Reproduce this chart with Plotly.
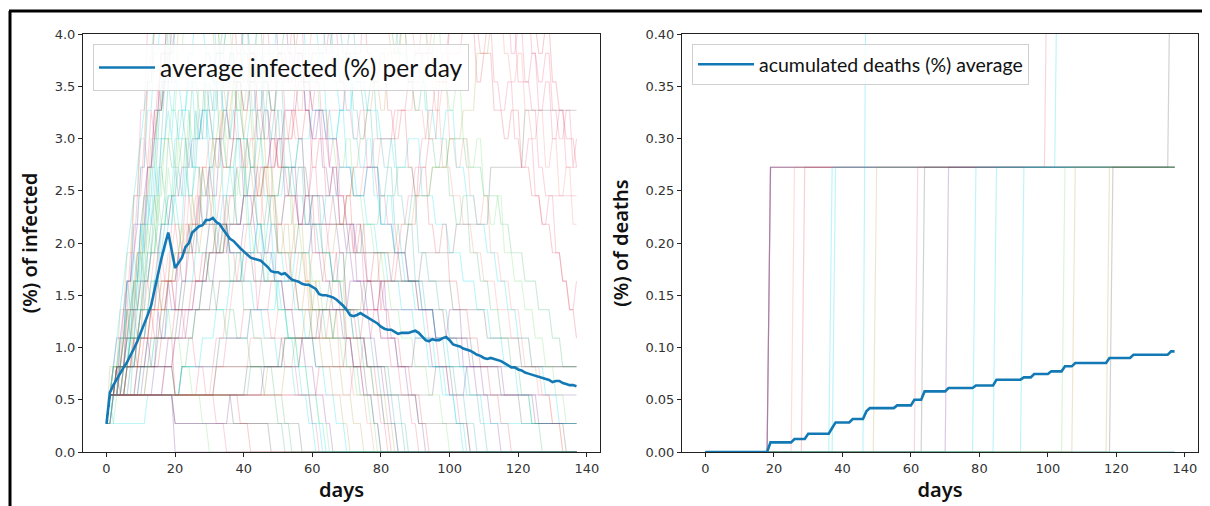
import plotly.graph_objects as go

# ---------------- data ----------------
UNIT = 100.0 / 367.0          # one person, in percent of population

days = list(range(138))

avg_infected = [
    0.27, 0.57, 0.64, 0.70, 0.76, 0.81, 0.86, 0.92, 0.99, 1.06,
    1.14, 1.22, 1.31, 1.40, 1.56, 1.71, 1.85, 1.98, 2.10, 1.93,
    1.76, 1.81, 1.86, 1.96, 2.00, 2.10, 2.13, 2.16, 2.17, 2.22,
    2.22, 2.24, 2.20, 2.18, 2.13, 2.08, 2.04, 2.02, 1.98, 1.95,
    1.92, 1.89, 1.86, 1.85, 1.84, 1.83, 1.80, 1.77, 1.73, 1.72,
    1.72, 1.70, 1.71, 1.68, 1.65, 1.64, 1.63, 1.61, 1.60, 1.60,
    1.58, 1.56, 1.51, 1.50, 1.50, 1.49, 1.48, 1.46, 1.43, 1.40,
    1.36, 1.31, 1.30, 1.31, 1.33, 1.31, 1.29, 1.27, 1.25, 1.23,
    1.20, 1.18, 1.17, 1.17, 1.15, 1.13, 1.14, 1.14, 1.14, 1.15,
    1.16, 1.14, 1.10, 1.07, 1.06, 1.08, 1.07, 1.07, 1.09, 1.10,
    1.07, 1.03, 1.02, 1.01, 0.99, 0.98, 0.97, 0.95, 0.93, 0.92,
    0.90, 0.89, 0.90, 0.89, 0.88, 0.87, 0.85, 0.83, 0.81, 0.81,
    0.79, 0.78, 0.76, 0.75, 0.74, 0.73, 0.72, 0.71, 0.70, 0.69,
    0.67, 0.68, 0.68, 0.66, 0.65, 0.64, 0.64, 0.63,
]

# accumulated deaths average: day on which a new level starts, and the level
death_step_days = [0, 19, 26, 30, 37, 38, 43, 47, 48, 56, 61, 64, 71, 79,
                   85, 93, 96, 101, 105, 108, 118, 125, 136]
death_step_vals = [0.0, 0.0092, 0.0124, 0.0175, 0.0230, 0.0283, 0.0316,
                   0.0389, 0.0420, 0.0446, 0.0500, 0.0580, 0.0612, 0.0637,
                   0.0692, 0.0714, 0.0746, 0.0772, 0.0820, 0.0852, 0.0900,
                   0.0931, 0.0963]

# individual simulation runs, infected people ("day:count" = count from that day on)
sim_infected = [
    "0:1 1:2 18:2 20:1 47:1 48:0 137:0",
    "0:1 1:2 18:2 20:0 137:0",
    "0:1 1:2 3:3 18:3 20:2 36:2 37:1 56:1 57:0 137:0",
    "0:1 2:2 9:3 10:4 18:4 20:2 38:2 39:1 41:1 42:0 137:0",
    "0:1 1:2 4:3 6:4 8:5 10:6 12:7 14:8 15:7 16:8 18:9 20:8 22:7 25:8 27:7 30:6 32:5 35:4 36:5 38:4 42:3 46:2 50:1 52:0 137:0",
    "0:1 2:2 5:3 7:5 9:6 11:8 13:10 15:12 17:13 19:12 21:11 23:12 25:10 28:9 30:10 32:8 36:7 40:6 43:5 46:4 50:3 55:2 60:1 63:0 137:0",
    "0:1 2:2 4:4 6:6 8:9 10:12 12:15 14:18 40:18 45:15 48:13 50:14 52:12 55:11 58:9 60:10 62:8 65:7 68:5 70:4 72:3 75:2 80:1 82:0 137:0",
    "0:1 1:2 20:2 22:3 30:3 32:4 40:5 45:6 50:8 55:9 60:11 65:12 70:14 75:16 100:18 110:16 115:15 120:13 124:12 126:10 128:9 137:9",
    "0:1 1:2 6:2 8:4 10:5 12:7 14:9 16:11 18:13 20:15 22:17 35:17 38:15 40:14 42:12 44:13 46:11 49:12 51:10 54:9 56:10 58:8 62:7 66:6 68:7 70:5 74:4 78:3 83:2 86:1 88:0 137:0",
    "0:1 1:3 3:3 5:4 7:6 9:7 11:9 13:11 15:12 17:14 19:13 21:15 30:15 32:13 35:12 37:13 40:11 42:10 45:11 47:9 50:8 52:9 55:7 58:6 60:5 63:4 66:3 69:2 72:1 75:0 137:0",
    "0:1 2:2 4:3 6:5 8:6 10:8 12:10 14:12 16:14 18:16 45:16 50:14 53:13 55:14 58:12 60:11 62:12 65:10 67:9 70:8 73:7 76:6 78:5 80:6 82:4 85:3 88:2 91:1 93:0 137:0",
    "0:1 3:2 6:3 9:4 11:6 13:7 15:9 17:11 19:12 21:14 23:16 50:16 55:14 57:13 60:14 62:12 65:11 67:10 70:11 72:9 75:8 78:7 81:6 83:5 86:4 90:3 94:2 98:1 100:0 137:0",
    "0:1 1:2 5:2 7:3 10:4 14:5 18:6 22:7 25:8 28:10 31:11 34:13 37:15 40:17 75:17 80:15 83:14 85:15 88:13 90:12 93:11 95:12 98:10 101:9 104:8 107:7 110:6 114:5 118:4 122:3 126:2 130:1 133:0 137:0",
    "0:1 2:2 8:2 10:3 14:4 18:5 22:6 26:7 30:8 34:9 38:11 42:12 46:14 50:16 80:16 85:14 88:13 90:14 93:12 96:11 99:12 102:10 105:9 108:8 111:7 114:6 117:5 120:4 124:3 128:2 132:1 137:1",
    "0:1 1:2 10:2 12:3 16:4 20:5 25:6 30:7 35:8 40:9 45:10 50:11 55:12 60:14 65:15 70:17 100:17 104:15 108:13 110:14 113:12 116:11 118:12 121:10 124:9 127:8 130:7 133:6 135:5 137:4",
    "0:1 1:2 8:2 9:3 12:3 13:4 20:4 21:5 30:5 31:6 38:6 40:7 45:7 46:6 50:6 52:5 58:5 60:4 70:4 72:3 80:3 82:2 95:2 96:3 100:3 137:3",
    "0:1 2:2 5:3 8:5 11:7 13:8 15:10 17:11 19:10 21:12 23:11 25:13 27:12 29:14 31:13 33:11 35:10 38:11 41:9 44:8 47:9 50:7 54:6 57:7 60:5 64:4 67:5 70:3 74:2 78:1 80:0 137:0",
    "0:1 1:2 3:2 4:3 6:4 8:5 9:4 11:6 13:5 15:7 17:6 19:8 21:7 23:9 25:8 27:10 29:9 31:8 33:9 35:7 38:6 41:7 44:5 48:4 52:3 56:2 60:1 62:0 137:0",
    "0:1 1:2 12:2 14:3 18:4 22:5 26:6 30:7 33:8 36:7 40:8 44:7 48:8 52:9 56:8 60:9 64:8 68:7 72:6 76:5 80:4 85:3 90:4 95:3 100:2 105:3 110:2 137:2",
    "0:1 1:2 20:2 22:3 26:3 28:4 32:5 36:6 40:7 44:8 48:9 52:10 56:11 60:12 64:11 68:12 72:13 76:12 80:11 84:10 88:11 92:9 96:8 100:7 104:6 108:5 112:4 116:3 120:2 124:1 137:1",
    "0:1 1:2 4:3 7:4 9:6 11:8 13:9 15:11 17:13 19:15 40:15 42:13 44:14 46:12 48:11 50:12 52:10 55:9 58:8 60:9 63:7 66:6 69:5 72:4 76:3 80:2 84:1 87:0 137:0",
    "0:1 1:2 6:3 10:4 13:5 16:6 19:7 22:8 25:7 28:8 31:9 34:10 37:11 40:10 43:9 46:10 49:8 52:7 55:8 58:6 62:5 66:6 70:4 74:3 78:2 82:1 84:0 137:0",
    "0:1 1:2 30:2 32:3 40:3 42:4 50:5 55:6 60:7 65:8 70:9 75:10 80:11 85:12 90:14 95:15 100:16 110:17 137:17",
    "0:1 1:2 25:2 27:3 35:4 42:5 48:6 54:7 60:8 66:9 72:10 78:11 84:12 88:13 92:14 96:13 100:14 104:15 108:16 116:16 118:14 120:15 122:13 124:14 126:12 128:13 130:11 132:12 134:10 137:10",
    "0:1 1:2 2:3 5:3 6:4 9:4 10:5 14:5 15:6 20:6 21:7 25:7 26:8 35:8 36:7 42:7 43:6 55:6 56:5 65:5 66:4 75:4 76:3 100:3 101:2 120:2 121:1 137:1",
    "0:1 1:2 3:3 5:4 7:5 9:7 11:9 13:10 15:12 17:14 19:16 30:16 33:14 35:15 37:13 39:12 41:13 43:11 46:10 49:9 51:10 54:8 57:7 60:6 63:5 66:4 69:3 73:2 77:1 79:0 137:0",
    "0:1 1:2 5:2 7:3 9:4 12:5 14:6 16:8 18:9 20:11 22:12 24:14 26:16 55:16 58:14 60:13 62:14 64:12 66:11 68:12 70:10 73:9 76:8 79:7 82:6 86:5 90:4 94:3 98:2 102:1 104:0 137:0",
    "0:1 1:2 3:3 6:5 9:7 12:10 14:12 16:14 18:16 35:16 38:14 40:13 42:14 44:12 46:11 48:12 50:10 53:9 56:8 58:9 61:7 64:6 67:7 70:5 73:4 76:3 79:2 81:1 83:0 137:0",
    "0:1 1:2 15:2 17:3 20:4 24:5 28:6 32:7 36:8 40:9 44:10 48:11 52:12 56:13 60:12 64:11 68:10 72:9 76:10 80:8 84:7 88:6 92:5 96:4 100:5 104:3 108:2 112:1 115:0 137:0",
    "0:1 1:2 40:2 42:3 50:3 52:4 60:5 65:6 70:7 75:8 80:9 85:10 90:9 95:10 100:11 105:10 110:9 115:8 118:7 122:6 126:5 130:4 133:3 137:3",
    "0:1 1:2 2:1 10:1 12:2 20:2 22:3 30:3 33:4 40:4 42:5 50:6 55:7 60:8 64:9 68:10 72:9 76:10 80:8 84:7 88:6 92:5 96:4 100:3 105:2 110:1 137:1",
    "0:1 1:2 2:2 4:4 6:6 8:8 10:10 12:13 14:15 16:17 60:17 62:15 64:14 66:15 68:13 70:12 72:11 74:12 76:10 79:9 82:8 85:7 88:6 91:5 94:4 97:3 100:2 103:1 106:0 137:0",
    "0:1 1:2 10:2 11:3 14:3 15:4 25:4 26:5 32:5 33:6 45:6 46:7 55:7 56:8 70:8 71:7 85:7 86:6 100:6 101:5 110:5 111:4 120:4 121:3 137:3",
    "0:1 1:2 3:3 6:4 8:6 10:8 12:9 14:11 16:13 18:15 20:17 38:17 40:15 42:14 44:15 46:13 48:12 50:13 52:11 54:10 56:11 58:9 60:8 63:7 66:6 69:5 72:4 75:3 78:2 81:1 85:0 137:0",
    "0:1 1:2 5:3 8:4 10:5 12:6 14:7 16:6 18:7 20:8 22:7 24:9 26:8 28:10 30:9 32:11 34:10 36:12 38:11 40:10 42:11 44:9 46:8 48:9 50:7 53:6 56:7 59:5 62:4 65:5 68:3 72:2 76:1 78:0 137:0",
    "0:1 1:2 45:2 47:3 55:3 57:4 65:4 67:5 75:6 80:7 85:8 90:9 95:10 100:11 104:12 108:14 112:15 116:17 137:17",
    "0:1 1:2 30:2 32:3 50:3 52:4 60:4 62:5 75:5 76:6 90:6 92:7 100:7 102:8 110:8 112:10 120:10 122:12 130:12 137:12",
    "0:1 1:2 60:2 62:3 70:4 75:5 80:6 85:7 88:8 91:10 94:11 97:13 100:15 103:17 120:17 124:15 126:14 128:15 130:13 132:12 134:11 137:10",
    "0:1 1:2 4:3 7:4 10:5 13:6 16:5 19:4 22:3 25:2 28:1 30:0 137:0",
    "0:1 1:2 6:3 9:4 12:5 14:6 16:5 18:6 20:5 23:4 26:3 29:2 32:1 35:0 137:0",
    "0:1 1:2 3:3 5:4 7:5 10:6 13:7 16:8 19:9 22:10 25:11 28:12 31:11 34:10 37:11 40:9 43:8 46:7 49:6 52:5 55:4 58:3 61:2 64:1 66:0 137:0",
    "0:1 1:2 4:4 6:6 8:8 10:10 12:12 14:14 16:16 30:16 32:14 34:13 36:14 38:12 40:11 42:10 44:11 46:9 48:8 50:7 52:6 55:5 58:4 61:3 64:2 67:1 70:0 137:0",
    "0:1 1:2 3:3 5:5 7:7 9:9 11:11 12:10 13:12 14:11 15:13 16:12 17:14 18:13 19:15 21:17 50:17 52:15 53:16 55:14 56:15 58:13 60:12 61:13 63:11 65:10 66:11 68:9 70:8 72:7 73:8 75:6 78:5 80:4 83:3 86:2 89:1 91:0 137:0",
    "0:1 1:2 2:3 4:4 6:6 7:5 8:7 9:6 10:8 11:7 12:9 13:8 14:10 15:9 16:11 18:12 19:11 20:13 22:12 24:13 26:11 28:12 30:10 32:11 34:9 36:10 38:8 40:9 42:7 44:8 46:6 48:7 50:5 53:4 56:3 59:2 62:1 64:0 137:0",
    "0:1 1:2 3:3 5:4 6:5 7:4 8:6 9:5 10:7 11:6 12:8 14:9 15:8 16:10 17:9 18:11 20:10 22:11 24:9 26:10 28:8 30:9 32:7 34:8 36:6 38:7 40:5 43:4 46:3 49:2 52:1 54:0 137:0",
    "0:1 1:2 8:2 10:3 12:4 13:3 15:5 16:4 18:6 19:5 21:7 22:6 24:8 25:7 27:9 28:8 30:10 31:9 33:11 35:12 36:11 38:13 40:12 42:13 44:11 46:12 48:10 50:11 52:9 54:10 56:8 58:9 60:7 63:6 66:5 69:4 72:3 75:2 78:1 80:0 137:0",
    "0:1 1:2 5:3 9:4 13:5 17:6 21:7 24:8 27:9 30:10 32:11 34:12 36:13 38:14 40:15 42:16 44:17 70:17 72:15 74:16 76:14 78:13 80:14 82:12 84:11 86:12 88:10 90:9 92:10 94:8 96:7 98:8 100:6 103:5 106:4 109:3 112:2 115:1 118:0 137:0",
    "0:1 1:2 4:3 8:4 12:5 16:6 20:7 23:8 26:9 28:10 30:11 32:10 34:12 36:11 38:13 40:12 42:14 44:13 46:15 48:17 85:17 88:15 90:14 92:15 94:13 96:12 98:13 100:11 102:10 104:11 106:9 108:8 110:9 112:7 115:6 118:5 121:4 124:3 127:2 130:1 133:0 137:0",
    "0:1 1:2 3:2 5:3 7:4 9:5 11:6 13:7 15:8 17:9 18:8 20:10 21:9 23:11 24:10 26:12 27:11 29:13 30:12 32:14 34:15 36:17 65:17 67:15 69:14 71:15 73:13 75:12 77:13 79:11 81:10 83:11 85:9 87:8 89:9 91:7 94:6 97:5 100:4 103:3 106:2 109:1 111:0 137:0",
    "0:1 1:2 2:3 4:5 6:7 8:9 10:11 12:13 14:15 16:17 28:17 30:15 31:16 33:14 35:13 36:14 38:12 40:11 41:12 43:10 45:9 46:10 48:8 50:7 52:8 54:6 56:5 58:6 60:4 63:3 66:2 69:1 71:0 137:0",
    "0:1 1:2 10:2 12:3 14:4 16:5 18:6 20:7 22:8 23:7 25:9 26:8 28:10 29:9 31:11 32:10 34:12 35:11 37:13 38:12 40:14 42:13 44:15 46:17 90:17 92:15 94:14 96:15 98:13 100:12 102:13 104:11 106:10 108:11 110:9 112:8 114:9 116:7 119:6 122:5 125:4 128:3 131:2 134:1 137:1",
    "0:1 1:2 15:2 17:3 20:4 23:5 26:6 29:7 32:8 35:9 38:10 41:11 44:12 46:13 48:12 50:14 52:13 54:15 56:17 105:17 107:15 109:14 111:15 113:13 115:12 117:13 119:11 121:10 123:11 125:9 127:8 129:9 131:7 133:6 135:5 137:6",
    "0:1 1:2 6:3 9:4 12:5 14:6 16:7 18:8 20:9 21:8 23:10 24:9 26:11 28:12 30:11 32:13 34:12 36:14 38:13 40:15 43:17 58:17 60:15 62:14 64:15 66:13 68:12 70:13 72:11 74:10 76:11 78:9 80:8 82:9 84:7 87:6 90:5 93:4 96:3 99:2 102:1 105:0 137:0",
    "0:1 1:2 5:2 6:3 11:3 12:4 16:4 17:5 22:5 23:6 28:6 29:7 34:7 35:8 42:8 43:9 50:9 51:10 58:10 59:9 66:9 67:8 74:8 75:7 82:7 83:6 90:6 91:5 98:5 99:4 106:4 107:3 114:3 115:2 124:2 125:1 133:1 134:0 137:0",
    "0:1 1:2 2:3 3:4 5:5 6:6 8:7 9:8 11:9 12:10 14:11 15:12 17:13 18:14 20:15 22:17 48:17 50:15 51:16 53:14 55:13 56:14 58:12 60:11 61:12 63:10 65:9 66:10 68:8 70:7 71:8 73:6 75:5 77:4 79:3 81:2 83:1 85:0 137:0",
    "0:1 1:2 3:3 4:2 6:3 8:4 9:3 11:4 13:5 14:4 16:5 18:6 20:5 22:6 24:7 26:6 28:7 30:8 32:7 34:8 36:9 38:8 40:9 42:10 44:9 46:10 48:11 50:10 52:11 54:12 56:11 58:12 60:10 62:11 64:9 66:10 68:8 70:9 72:7 74:8 76:6 78:7 80:5 83:4 86:3 89:2 92:1 94:0 137:0",
    "0:1 1:2 20:2 22:3 24:4 26:5 28:6 30:7 32:8 33:7 35:9 36:8 38:10 39:9 41:11 42:10 44:12 45:11 47:13 48:12 50:14 52:15 54:17 80:17 82:15 84:14 86:15 88:13 90:12 92:13 94:11 96:10 98:11 100:9 102:8 104:9 106:7 109:6 112:5 115:4 118:3 121:2 124:1 127:0 137:0",
    "0:1 1:2 2:3 3:4 4:5 5:6 6:7 7:8 8:9 9:10 10:11 11:12 12:13 13:14 14:15 15:17 25:17 27:15 29:14 31:13 32:14 34:12 36:11 37:12 39:10 41:9 42:10 44:8 46:7 47:8 49:6 51:5 53:4 55:3 57:2 59:1 61:0 137:0",
    "0:1 1:2 30:2 31:3 33:4 35:5 37:6 39:7 41:8 43:9 44:8 46:10 47:9 49:11 50:10 52:12 53:11 55:13 56:12 58:14 60:15 62:17 110:17 112:15 114:16 116:14 118:13 120:14 122:12 124:11 126:12 128:10 130:11 132:9 134:10 136:8 137:8",
    "0:1 1:2 4:3 7:4 10:5 13:6 15:7 17:8 19:9 21:10 22:9 24:11 25:10 27:12 28:11 30:13 31:12 33:14 35:15 37:17 60:17 62:15 64:16 66:14 68:13 70:14 72:12 74:11 76:12 78:10 80:9 82:10 84:8 86:7 88:8 90:6 93:5 96:4 99:3 102:2 105:1 108:0 137:0",
    "0:1 1:2 50:2 52:3 55:4 58:5 61:6 64:7 67:8 70:9 72:10 74:11 76:12 78:13 80:12 82:14 84:13 86:15 88:17 137:17",
    "0:1 1:2 2:3 4:4 6:5 8:6 10:7 12:8 13:7 15:9 16:8 18:10 19:9 21:11 22:10 24:12 25:11 27:13 29:12 31:11 33:12 35:10 37:9 39:10 41:8 43:7 45:8 47:6 50:5 53:4 56:3 59:2 62:1 65:0 137:0",
    "0:1 1:2 70:2 72:3 75:4 78:5 81:6 84:7 86:8 88:9 90:10 92:11 94:12 96:13 98:14 100:15 102:17 118:17 120:15 122:16 124:14 126:13 128:14 130:12 132:11 134:12 136:10 137:11",
    "0:1 1:2 3:3 18:3 20:2 40:2 41:3 50:3 51:4 60:4 61:3 75:3 76:2 90:2 91:1 105:1 106:0 137:0",
    "0:1 1:2 18:2 20:1 35:1 36:2 45:2 46:3 55:3 57:4 62:4 63:5 70:5 71:6 80:6 81:5 95:5 96:4 105:4 106:3 115:3 116:2 125:2 126:1 137:1",
]
sim_infected_colors = [
    "gray", "purple", "gray", "red", "green", "cyan", "pink", "pink", "teal",
    "olive", "purple", "lightgreen", "salmon", "cyan", "red", "gray", "green",
    "pink", "purple", "cyan", "teal", "olive", "salmon", "pink", "gray",
    "lightgreen", "cyan", "red", "purple", "green", "cyan", "pink", "gray",
    "teal", "salmon", "olive", "gray", "red", "lightgreen", "pink", "purple",
    "cyan",
    "pink", "cyan", "green", "purple", "red", "salmon", "teal", "olive",
    "lightgreen", "pink", "cyan", "gray", "purple", "red", "green", "cyan",
    "salmon", "teal", "olive", "lightgreen", "pink", "gray", "purple",
]

# individual simulation runs, accumulated deaths ("day:count" breakpoints)
sim_deaths = [
    "0:0 137:0", "0:0 137:0", "0:0 137:0",
    "0:0 18:0 19:1 137:1",
    "0:0 18:0 19:1 137:1",
    "0:0 18:0 19:1 99:1 100:2 137:2",
    "0:0 25:0 26:1 137:1",
    "0:0 28:0 29:1 137:1",
    "0:0 36:0 37:1 137:1",
    "0:0 37:0 38:1 102:1 103:2 137:2",
    "0:0 46:0 47:2 137:2",
    "0:0 49:0 50:1 137:1",
    "0:0 61:0 62:1 137:1",
    "0:0 63:0 64:1 137:1",
    "0:0 70:0 71:1 137:1",
    "0:0 78:0 79:1 137:1",
    "0:0 84:0 85:1 137:1",
    "0:0 92:0 93:1 137:1",
    "0:0 104:0 105:1 137:1",
    "0:0 107:0 108:1 137:1",
    "0:0 117:0 118:1 137:1",
    "0:0 118:0 119:1 137:1",
    "0:0 18:0 19:1 135:1 136:2 137:2",
]
sim_deaths_colors = [
    "gray", "cyan", "teal", "purple", "purple", "pink", "salmon", "red", "cyan",
    "cyan", "cyan", "olive", "pink", "gray", "purple", "cyan", "cyan", "cyan",
    "lightgreen", "olive", "olive", "gray", "gray",
]

palette = {
    "pink": "rgba(232,80,120,0.24)",
    "red": "rgba(220,40,60,0.22)",
    "salmon": "rgba(240,120,110,0.24)",
    "green": "rgba(40,170,90,0.24)",
    "lightgreen": "rgba(110,220,110,0.26)",
    "cyan": "rgba(0,215,230,0.26)",
    "teal": "rgba(20,160,150,0.24)",
    "purple": "rgba(120,50,150,0.26)",
    "gray": "rgba(80,80,80,0.26)",
    "olive": "rgba(180,150,50,0.24)",
}

AVG_COLOR = "#1379b5"


def parse(path, scale):
    """A count holds from its day until the day before the next breakpoint."""
    pts = []
    for token in path.split():
        d, c = token.split(":")
        pts.append((int(d), int(c)))
    xs, ys = [], []
    for i, (d, c) in enumerate(pts):
        xs.append(d)
        ys.append(c * scale)
        if i + 1 < len(pts) and pts[i + 1][0] - d > 1:
            xs.append(pts[i + 1][0] - 1)
            ys.append(c * scale)
    return xs, ys


avg_deaths = []
level = 0.0
for d in days:
    for sd, sv in zip(death_step_days, death_step_vals):
        if sd <= d:
            level = sv
    avg_deaths.append(level)

# ---------------- figure ----------------
fig = go.Figure()

for path, col in zip(sim_infected, sim_infected_colors):
    xs, ys = parse(path, UNIT)
    fig.add_trace(go.Scatter(x=xs, y=ys, mode="lines", showlegend=False,
                             hoverinfo="skip",
                             line=dict(color=palette[col], width=1.1),
                             xaxis="x", yaxis="y"))

fig.add_trace(go.Scatter(x=days, y=avg_infected, mode="lines",
                         name="average infected (%) per day",
                         line=dict(color=AVG_COLOR, width=2.6),
                         xaxis="x", yaxis="y", legend="legend"))

for path, col in zip(sim_deaths, sim_deaths_colors):
    xs, ys = parse(path, UNIT)
    fig.add_trace(go.Scatter(x=xs, y=ys, mode="lines", showlegend=False,
                             hoverinfo="skip",
                             line=dict(color=palette[col], width=1.2),
                             xaxis="x2", yaxis="y2"))

fig.add_trace(go.Scatter(x=days, y=avg_deaths, mode="lines",
                         name="acumulated deaths (%) average",
                         line=dict(color=AVG_COLOR, width=2.6),
                         xaxis="x2", yaxis="y2", legend="legend2"))

# page body has an 8px margin: figure is drawn 8px right/down of the window corner
OFF = 8
W, H = 1210 - OFF, 506 - OFF


def px_x(x):
    return (x - OFF) / W


def px_y(y):
    return (H - (y - OFF)) / H


tick_font = dict(family="DejaVu Sans", size=13, color="#333333")
title_font = dict(family="Noto Sans", size=20, color="#111111", weight=600)

axis_common = dict(showline=True, linecolor="#222222", linewidth=1, mirror=True,
                   ticks="outside", ticklen=4, tickcolor="#222222",
                   showgrid=False, zeroline=False, tickfont=tick_font,
                   automargin=False)

fig.update_layout(
    width=W, height=H,
    margin=dict(l=0, r=0, t=0, b=0, autoexpand=False),
    paper_bgcolor="white", plot_bgcolor="white",
    xaxis=dict(domain=[px_x(83), px_x(600)], range=[-6.85, 143.85],
               tickvals=[0, 20, 40, 60, 80, 100, 120, 140],
               title=dict(text="days", font=title_font, standoff=6),
               anchor="y", **axis_common),
    yaxis=dict(domain=[px_y(452), px_y(34)], range=[0, 4.0],
               tickvals=[0, 0.5, 1.0, 1.5, 2.0, 2.5, 3.0, 3.5, 4.0],
               tickformat=".1f",
               title=dict(text="(%) of infected", font=title_font, standoff=11),
               anchor="x", **axis_common),
    xaxis2=dict(domain=[px_x(682), px_x(1198)], range=[-6.85, 143.85],
                tickvals=[0, 20, 40, 60, 80, 100, 120, 140],
                title=dict(text="days", font=title_font, standoff=6),
                anchor="y2", **axis_common),
    yaxis2=dict(domain=[px_y(452), px_y(34)], range=[0, 0.40],
                tickvals=[0, 0.05, 0.10, 0.15, 0.20, 0.25, 0.30, 0.35, 0.40],
                tickformat=".2f",
                title=dict(text="(%) of deaths", font=title_font, standoff=11),
                anchor="x2", **axis_common),
    legend=dict(x=px_x(93), y=px_y(44), xanchor="left", yanchor="top",
                bgcolor="rgba(255,255,255,0.85)", bordercolor="#d0d0d0",
                borderwidth=1, font=dict(family="Lato", size=24.5, color="#111111"),
                itemwidth=56),
    legend2=dict(x=px_x(692), y=px_y(44), xanchor="left", yanchor="top",
                 bgcolor="rgba(255,255,255,0.85)", bordercolor="#d0d0d0",
                 borderwidth=1, font=dict(family="Lato", size=19.5, color="#111111"),
                 itemwidth=56),
    shapes=[
        dict(type="line", xref="paper", yref="paper", x0=px_x(9), x1=1.0,
             y0=px_y(11), y1=px_y(11),
             line=dict(color="black", width=3)),
        dict(type="line", xref="paper", yref="paper", x0=px_x(10), x1=px_x(10),
             y0=0, y1=px_y(11),
             line=dict(color="black", width=3)),
    ],
)

fig.write_html("out.html")
